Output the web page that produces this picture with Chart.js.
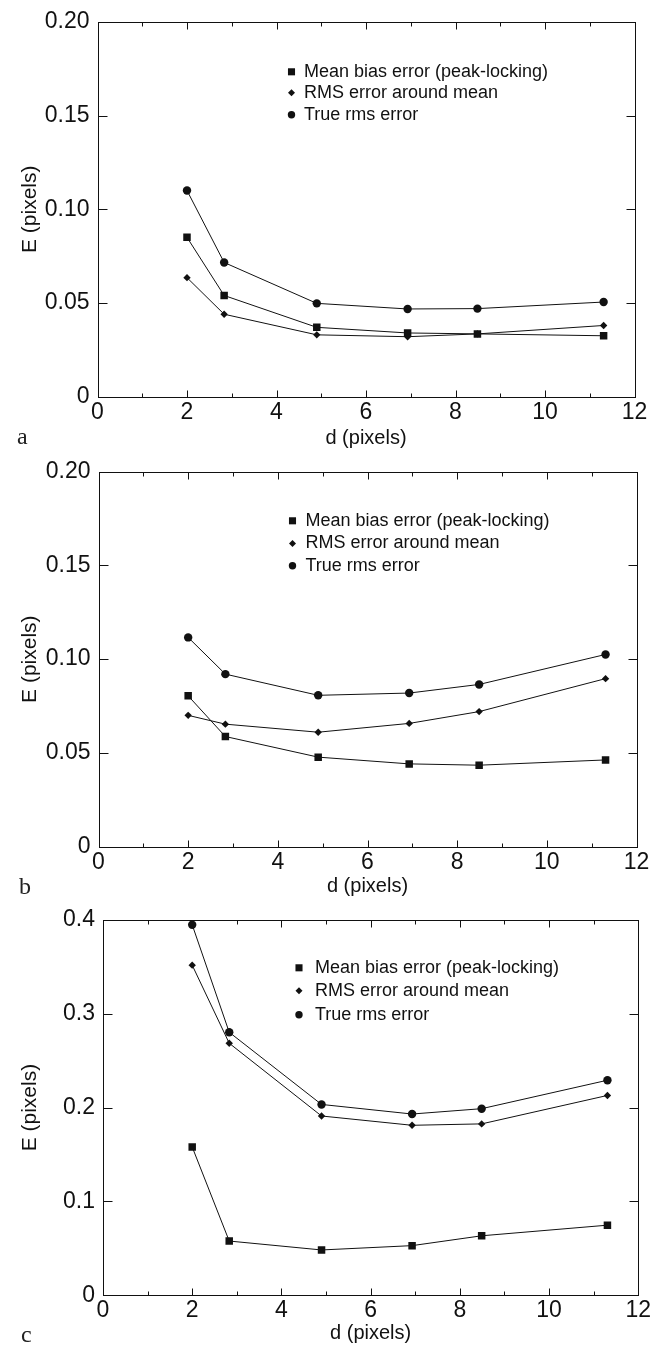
<!DOCTYPE html>
<html>
<head>
<meta charset="utf-8">
<script src="https://cdn.jsdelivr.net/npm/chart.js@4.4.1/dist/chart.umd.min.js"></script>
<style>
  body { margin: 0; background: #fff; }
  #page { position: relative; width: 653px; height: 1346px; overflow: hidden; background: #fff; }
  #page canvas { position: absolute; left: 0; }
  .letter { position: absolute; font-family: "Liberation Serif", "Times New Roman", serif; font-size: 24px; line-height: 1; color: #222; }
</style>
</head>
<body>
<div id="page">
  <canvas id="chartA" width="653" height="450" style="top:0px"></canvas>
  <canvas id="chartB" width="653" height="448" style="top:450px"></canvas>
  <canvas id="chartC" width="653" height="447" style="top:898px"></canvas>
  <div class="letter" style="left:17px; top:424px">a</div>
  <div class="letter" style="left:19px; top:874px">b</div>
  <div class="letter" style="left:21px; top:1322px">c</div>
</div>

<script>

// ----------------------------------------------------------
// Data
// ----------------------------------------------------------

const dValues = [2, 2.83, 4.9, 6.93, 8.49, 11.31];

const seriesLabels = [
    "Mean bias error (peak-locking)",
    "RMS error around mean",
    "True rms error"
];

// panel a
const biasA = [0.085, 0.054, 0.037, 0.034, 0.0335, 0.0325];
const rmsA  = [0.0635, 0.044, 0.033, 0.032, 0.0335, 0.038];
const trueA = [0.110, 0.0716, 0.0498, 0.0468, 0.047, 0.0505];

// panel b
const biasB = [0.0804, 0.0587, 0.0477, 0.0441, 0.0434, 0.0462];
const rmsB  = [0.070, 0.0653, 0.061, 0.0657, 0.072, 0.0896];
const trueB = [0.1116, 0.092, 0.0807, 0.0819, 0.0865, 0.1025];

// panel c
const biasC = [0.158, 0.0578, 0.0483, 0.0529, 0.0634, 0.0747];
const rmsC  = [0.3517, 0.2685, 0.191, 0.1811, 0.1826, 0.2129];
const trueC = [0.3947, 0.2802, 0.2033, 0.1931, 0.1988, 0.2291];

const xTicks = [0, 2, 4, 6, 8, 10, 12];
const yTicksAB = [0, 0.05, 0.10, 0.15, 0.20];
const yTicksC = [0, 0.1, 0.2, 0.3, 0.4];

const xTitle = "d (pixels)";
const yTitle = "E (pixels)";

// ----------------------------------------------------------
// Styling
// ----------------------------------------------------------

const INK = "#111";
const SANS = "'Liberation Sans', Arial, Helvetica, sans-serif";

const markerStyles = [
    { pointStyle: "rect",    radius: 5.3, legendRadius: 5.0 },
    { pointStyle: "rectRot", radius: 3.7, legendRadius: 3.5 },
    { pointStyle: "circle",  radius: 4.2, legendRadius: 3.7 }
];

// ----------------------------------------------------------
// Frame: box + inward ticks
// ----------------------------------------------------------

const framePlugin = {

    id: "frame",

    beforeDatasetsDraw(chart){

        const ctx = chart.ctx;
        const a = chart.chartArea;
        const xs = chart.scales.x;
        const ys = chart.scales.y;

        const L = Math.round(a.left) + 0.5;
        const R = Math.round(a.right) + 0.5;
        const T = Math.round(a.top) + 0.5;
        const B = Math.round(a.bottom) + 0.5;

        ctx.save();
        ctx.strokeStyle = INK;
        ctx.lineWidth = 1;

        ctx.strokeRect(L, T, R - L, B - T);

        ctx.beginPath();

        // x ticks every 1, longer on labelled values
        for (let v = xs.min; v <= xs.max; v++){
            const px = Math.round(xs.getPixelForValue(v)) + 0.5;
            const len = (v % 2 === 0) ? 7 : 4;
            ctx.moveTo(px, B); ctx.lineTo(px, B - len);
            ctx.moveTo(px, T); ctx.lineTo(px, T + len);
        }

        // y ticks on both sides
        ys.ticks.forEach(t => {
            const py = Math.round(ys.getPixelForValue(t.value)) + 0.5;
            ctx.moveTo(L, py); ctx.lineTo(L + 9, py);
            ctx.moveTo(R, py); ctx.lineTo(R - 9, py);
        });

        ctx.stroke();
        ctx.restore();

    }

};

// ----------------------------------------------------------
// Legend drawn inside the plot area
// ----------------------------------------------------------

const insideLegendPlugin = {

    id: "insideLegend",

    afterDatasetsDraw(chart, args, opts){

        const ctx = chart.ctx;
        const a = chart.chartArea;

        ctx.save();
        ctx.fillStyle = INK;
        ctx.font = "18px " + SANS;
        ctx.textBaseline = "middle";
        ctx.textAlign = "left";

        chart.data.datasets.forEach((ds, i) => {
            const y = a.top + opts.rows[i];
            Chart.helpers.drawPoint(ctx, {
                pointStyle: ds.pointStyle,
                radius: markerStyles[i].legendRadius,
                rotation: 0,
                borderWidth: 0
            }, a.left + opts.markerX, y);
            ctx.fillStyle = INK;
            ctx.fillText(ds.label, a.left + opts.textX, y);
        });

        ctx.restore();

    }

};

// ----------------------------------------------------------
// Build one panel
// ----------------------------------------------------------

function makeDataset(i, values){

    return {
        label: seriesLabels[i],
        data: dValues.map((d, k) => ({ x: d, y: values[k] })),
        borderColor: INK,
        backgroundColor: INK,
        borderWidth: 1,
        tension: 0,
        pointStyle: markerStyles[i].pointStyle,
        pointRadius: markerStyles[i].radius,
        pointBackgroundColor: INK,
        pointBorderWidth: 0,
        fill: false
    };

}

function createPanel(id, series, yTicks, decimals, geom){

    const canvas = document.getElementById(id);
    const ctx = canvas.getContext("2d");
    const H = canvas.height;

    return new Chart(ctx, {

        type: "line",

        data: {
            datasets: series.map((vals, i) => makeDataset(i, vals))
        },

        options: {
            responsive: false,
            animation: false,
            devicePixelRatio: 1,
            layout: {
                padding: { top: geom.top, right: 653 - geom.right, left: 0, bottom: 0 }
            },
            plugins: {
                legend: { display: false },
                tooltip: { enabled: false },
                insideLegend: geom.legend
            },
            scales: {
                x: {
                    type: "linear",
                    min: xTicks[0],
                    max: xTicks[xTicks.length - 1],
                    afterBuildTicks(scale){
                        scale.ticks = xTicks.map(v => ({ value: v }));
                    },
                    afterFit(scale){
                        scale.height = H - geom.bottom;
                    },
                    grid: { display: false, drawTicks: false },
                    border: { display: false },
                    ticks: {
                        color: INK,
                        padding: 2,
                        maxRotation: 0,
                        font: { family: SANS, size: 23 },
                        callback: v => String(v)
                    },
                    title: {
                        display: true,
                        text: xTitle,
                        color: INK,
                        font: { family: SANS, size: 20 },
                        padding: { top: 0, bottom: 0 }
                    }
                },
                y: {
                    type: "linear",
                    min: yTicks[0],
                    max: yTicks[yTicks.length - 1],
                    afterBuildTicks(scale){
                        scale.ticks = yTicks.map(v => ({ value: v }));
                    },
                    afterFit(scale){
                        scale.width = geom.left;
                    },
                    grid: { display: false, drawTicks: false },
                    border: { display: false },
                    ticks: {
                        color: INK,
                        padding: 8,
                        font: { family: SANS, size: 23 },
                        callback: v => v === 0 ? "0" : v.toFixed(decimals)
                    },
                    title: {
                        display: true,
                        text: yTitle,
                        color: INK,
                        font: { family: SANS, size: 21 },
                        padding: { top: 18, bottom: 0 }
                    }
                }
            }
        },

        plugins: [framePlugin, insideLegendPlugin]

    });

}

// ----------------------------------------------------------
// Panels
// ----------------------------------------------------------

createPanel("chartA", [biasA, rmsA, trueA], yTicksAB, 2, {
    left: 97.5, right: 634.5, top: 21, bottom: 396.7,
    legend: { markerX: 194, textX: 206.5, rows: [50, 71, 93] }
});

createPanel("chartB", [biasB, rmsB, trueB], yTicksAB, 2, {
    left: 98.5, right: 636.5, top: 15, bottom: 396.5,
    legend: { markerX: 194, textX: 207, rows: [49, 71.7, 94] }
});

createPanel("chartC", [biasC, rmsC, trueC], yTicksC, 1, {
    left: 103, right: 641, top: 19, bottom: 397.3,
    legend: { markerX: 196, textX: 212, rows: [48, 71, 95] }
});

</script>
</body>
</html>
